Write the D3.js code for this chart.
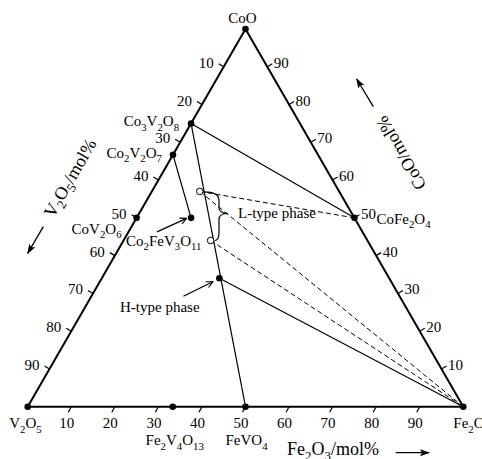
<!DOCTYPE html>
<html>
<head>
<meta charset="utf-8">
<script src="https://cdn.jsdelivr.net/npm/d3@7"></script>
<style>
  body { margin: 0; background: #fff; }
  svg { display: block; }
</style>
</head>
<body>
<div id="chart-area"></div>
<script>
const WIDTH = 482;
const HEIGHT = 459;

// compositions in mol%: CoO, V2O5, Fe2O3
const phaseNames = ["CoO", "V2O5", "Fe2O3", "Co3V2O8", "Co2V2O7", "CoV2O6", "CoFe2O4", "Co2FeV3O11", "Fe2V4O13", "FeVO4", "H"];
const phaseCoO   = [100, 0,   0,   75, 66.7, 50, 50, 50,   0,    0,  34];
const phaseV2O5  = [0,   100, 0,   25, 33.3, 50, 0,  37.5, 66.7, 50, 39];
const phaseFe2O3 = [0,   0,   100, 0,  0,    0,  50, 12.5, 33.3, 50, 27];

// L-type phase range (open circles)
const lNames = ["L1", "L2"];
const lCoO   = [57, 44];
const lV2O5  = [32, 36];
const lFe2O3 = [11, 20];

const solidTies  = [["Co3V2O8", "CoFe2O4"], ["Co3V2O8", "FeVO4"], ["Co2V2O7", "Co2FeV3O11"], ["H", "Fe2O3"]];
const dashedTies = [["L1", "CoFe2O4"], ["L1", "Fe2O3"], ["L2", "Fe2O3"]];

const tickValues = [10, 20, 30, 40, 50, 60, 70, 80, 90];

const FONT = "'Liberation Serif', 'DejaVu Serif', serif";

const svg = d3.select("#chart-area").append("svg")
  .attr("width", WIDTH)
  .attr("height", HEIGHT)
  .attr("font-family", FONT)
  .style("font-family", FONT);

// triangle: V2O5 bottom left, Fe2O3 bottom right, CoO top
const x = d3.scaleLinear().domain([0, 100]).range([27.7, 463.3]);
const y = d3.scaleLinear().domain([0, 100]).range([406.7, 29]);
const proj = (co, v, fe) => {
  const s = co + v + fe;
  co = co / s * 100; fe = fe / s * 100;
  return [x(fe + co / 2), y(co)];
};

const pts = {};
phaseNames.forEach((n, i) => pts[n] = proj(phaseCoO[i], phaseV2O5[i], phaseFe2O3[i]));
lNames.forEach((n, i) => pts[n] = proj(lCoO[i], lV2O5[i], lFe2O3[i]));

// chemical text with subscript digits
function chem(sel, str, size) {
  const parts = str.split(/(\d+)/).filter(s => s.length);
  const shift = size * 0.3;
  let down = false;
  parts.forEach(p => {
    const isSub = /^\d+$/.test(p);
    const t = sel.append("tspan").text(p);
    if (isSub) {
      t.attr("font-size", size * 0.72);
      if (!down) { t.attr("dy", shift); down = true; }
    } else if (down) {
      t.attr("dy", -shift); down = false;
    }
  });
  return sel;
}

const defs = svg.append("defs");
defs.append("marker")
  .attr("id", "solidHead")
  .attr("viewBox", "0 0 10 8")
  .attr("refX", 9).attr("refY", 4)
  .attr("markerWidth", 10).attr("markerHeight", 8)
  .attr("markerUnits", "userSpaceOnUse")
  .attr("orient", "auto")
  .append("path").attr("d", "M0,0.5 L10,4 L0,7.5 L2,4 z").attr("fill", "#000");
defs.append("marker")
  .attr("id", "openHead")
  .attr("viewBox", "0 0 10 10")
  .attr("refX", 9).attr("refY", 5)
  .attr("markerWidth", 8).attr("markerHeight", 8)
  .attr("markerUnits", "userSpaceOnUse")
  .attr("orient", "auto")
  .append("path").attr("d", "M1,1 L9,5 L1,9").attr("fill", "none").attr("stroke", "#000").attr("stroke-width", 1.4);

const line = d3.line();

// tie lines
svg.append("g").selectAll("path").data(solidTies).enter().append("path")
  .attr("d", d => line([pts[d[0]], pts[d[1]]]))
  .attr("stroke", "#000").attr("stroke-width", 1.2).attr("fill", "none");

svg.append("g").selectAll("path").data(dashedTies).enter().append("path")
  .attr("d", d => line([pts[d[0]], pts[d[1]]]))
  .attr("stroke", "#000").attr("stroke-width", 1).attr("stroke-dasharray", "5,3").attr("fill", "none");

// triangle
svg.append("path")
  .attr("d", line([pts.CoO, pts.V2O5, pts.Fe2O3]) + "Z")
  .attr("stroke", "#000").attr("stroke-width", 2).attr("fill", "none").attr("stroke-linejoin", "miter");

// ticks
const axes = svg.append("g").attr("font-size", 15);
tickValues.forEach(v => {
  // left: V2O5
  let p = proj(100 - v, v, 0);
  axes.append("line").attr("x1", p[0]).attr("y1", p[1]).attr("x2", p[0] - 5).attr("y2", p[1] - 3)
    .attr("stroke", "#000").attr("stroke-width", 1.2);
  axes.append("text").attr("x", p[0] - 10).attr("y", p[1] + 1).attr("text-anchor", "end").text(v);
  // right: CoO
  p = proj(v, 0, 100 - v);
  axes.append("line").attr("x1", p[0]).attr("y1", p[1]).attr("x2", p[0] + 5).attr("y2", p[1] - 3)
    .attr("stroke", "#000").attr("stroke-width", 1.2);
  axes.append("text").attr("x", p[0] + 6.5).attr("y", p[1] + 1).attr("text-anchor", "start").text(v);
  // bottom: Fe2O3
  p = proj(0, 100 - v, v);
  axes.append("line").attr("x1", p[0]).attr("y1", p[1]).attr("x2", p[0] - 3).attr("y2", p[1] + 5.5)
    .attr("stroke", "#000").attr("stroke-width", 1.2);
  axes.append("text").attr("x", p[0] - 4.5).attr("y", 428).attr("text-anchor", "middle").text(v);
});

// points
svg.append("g").selectAll("circle").data(phaseNames).enter().append("circle")
  .attr("cx", d => pts[d][0]).attr("cy", d => pts[d][1]).attr("r", 3.3).attr("fill", "#000");
svg.append("g").selectAll("circle").data(lNames).enter().append("circle")
  .attr("cx", d => pts[d][0]).attr("cy", d => pts[d][1]).attr("r", 3.3)
  .attr("fill", "#fff").attr("stroke", "#000").attr("stroke-width", 1);

// brace for L-type phase range
const bT = pts.L1, bB = pts.L2, bx = 219, bm = 213.5;
svg.append("path")
  .attr("d", `M${bT[0] + 4},${bT[1] + 0.5} Q${bx},${bT[1] + 0.5} ${bx},${bT[1] + 9} L${bx},${bm - 6} Q${bx},${bm} ${bx + 9},${bm} ` +
             `Q${bx},${bm} ${bx},${bm + 6} L${bx},${bB[1] - 8} Q${bx},${bB[1]} ${bB[0] + 4},${bB[1]}`)
  .attr("stroke", "#000").attr("stroke-width", 1.2).attr("fill", "none");

// phase labels
const labels = svg.append("g").attr("font-size", 15);
const phaseLabel = (name, dx, dy, anchor) => {
  const p = pts[name];
  chem(labels.append("text").attr("x", p[0] + dx).attr("y", p[1] + dy).attr("text-anchor", anchor), name, 15);
};
phaseLabel("CoO", -3, -6, "middle");
phaseLabel("Co3V2O8", -12, 3, "end");
phaseLabel("Co2V2O7", -11, 3, "end");
phaseLabel("CoV2O6", -15, 16, "end");
phaseLabel("CoFe2O4", 22, 6, "start");
phaseLabel("Co2FeV3O11", -65, 28, "start");
labels.append("text").attr("x", 25.5).attr("y", 428).attr("text-anchor", "middle").call(s => chem(s, "V2O5", 15));
labels.append("text").attr("x", pts.Fe2O3[0] - 10).attr("y", 428).attr("text-anchor", "start").call(s => chem(s, "Fe2O3", 15));
labels.append("text").attr("x", pts.Fe2V4O13[0] + 2).attr("y", 445).attr("text-anchor", "middle").call(s => chem(s, "Fe2V4O13", 15));
labels.append("text").attr("x", pts.FeVO4[0] + 1).attr("y", 445).attr("text-anchor", "middle").call(s => chem(s, "FeVO4", 15));
labels.append("text").attr("x", 238).attr("y", 218).text("L-type phase");
labels.append("text").attr("x", 120).attr("y", 312).text("H-type phase");

// pointer arrows
const pC = pts.Co2FeV3O11, pH = pts.H;
svg.append("line").attr("x1", pC[0] - 34).attr("y1", pC[1] + 14).attr("x2", pC[0] - 4.5).attr("y2", pC[1] + 0.5)
  .attr("stroke", "#000").attr("stroke-width", 1.2).attr("marker-end", "url(#openHead)");
svg.append("line").attr("x1", pH[0] - 36).attr("y1", pH[1] + 18).attr("x2", pH[0] - 6.5).attr("y2", pH[1] + 3.5)
  .attr("stroke", "#000").attr("stroke-width", 1.2).attr("marker-end", "url(#openHead)");

// axis titles
const titles = svg.append("g").attr("font-size", 18);
titles.append("text").attr("text-anchor", "middle").attr("dominant-baseline", "central")
  .attr("transform", "translate(70,178) rotate(-60)").call(s => chem(s, "V2O5/mol%", 18));
titles.append("text").attr("text-anchor", "middle").attr("dominant-baseline", "central")
  .attr("transform", "translate(401,153) rotate(-120)").call(s => chem(s, "CoO/mol%", 18));
titles.append("text").attr("x", 287).attr("y", 455).call(s => chem(s, "Fe2O3/mol%", 18));

// axis arrows
const arrows = [[[43.3, 226.7], [27.7, 253.3]], [[373.3, 106.7], [356.7, 79]], [[395.7, 452.7], [429, 452.7]]];
svg.append("g").selectAll("path").data(arrows).enter().append("path")
  .attr("d", d => line(d))
  .attr("stroke", "#000").attr("stroke-width", 1.3).attr("marker-end", "url(#solidHead)");
</script>
</body>
</html>
